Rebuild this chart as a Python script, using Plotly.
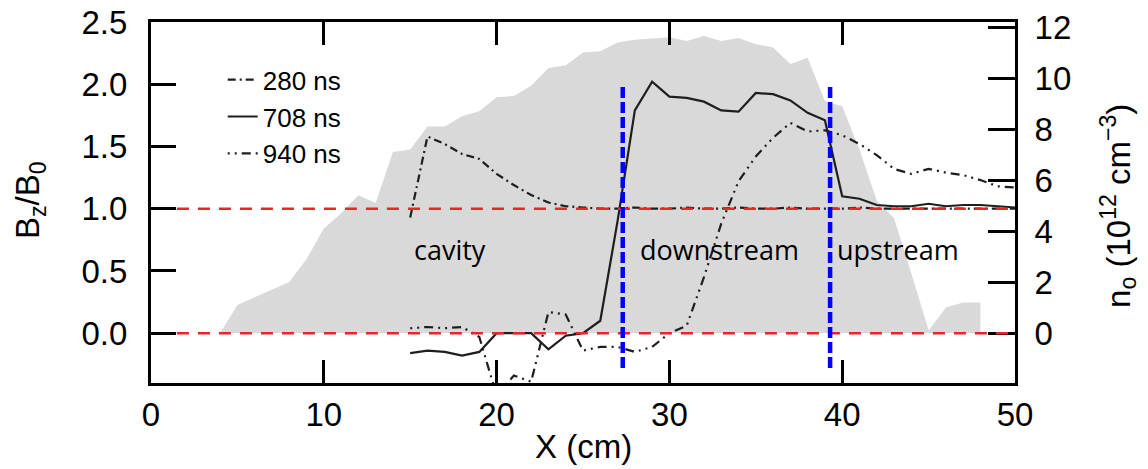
import plotly.graph_objects as go

# ---- data ----
x_b = list(range(15, 51))
b_280 = [0.93, 1.58, 1.52, 1.44, 1.40, 1.28, 1.19, 1.11, 1.05, 1.02, 1.01, 1.00,
         1.00, 1.01, 1.00, 1.00, 1.01, 1.00, 1.00, 1.01, 1.00, 1.00, 1.01, 1.00,
         1.00, 1.00, 1.01, 1.00, 1.00, 1.00, 1.00, 1.00, 1.00, 1.00, 1.00, 1.00]
b_708 = [-0.16, -0.14, -0.15, -0.18, -0.15, 0.00, 0.00, 0.00, -0.13, -0.02, 0.00, 0.10,
         0.90, 1.79, 2.02, 1.90, 1.89, 1.86, 1.79, 1.78, 1.93, 1.92, 1.87, 1.77,
         1.71, 1.10, 1.08, 1.03, 1.02, 1.02, 1.04, 1.02, 1.03, 1.03, 1.02, 1.01]
b_940 = [0.04, 0.05, 0.04, 0.05, -0.03, -0.50, -0.34, -0.39, 0.17, 0.15, -0.14, -0.11,
         -0.11, -0.15, -0.11, 0.00, 0.06, 0.45, 0.88, 1.22, 1.42, 1.57, 1.69, 1.62,
         1.63, 1.59, 1.52, 1.43, 1.32, 1.28, 1.32, 1.29, 1.27, 1.23, 1.18, 1.17]

x_n = [4, 5, 6, 7, 8, 9, 10, 11, 12, 13, 14, 15, 16, 17, 18, 19, 20, 21, 22, 23,
       24, 25, 26, 27, 28, 29, 30, 31, 32, 33, 34, 35, 36, 37, 38, 39, 40, 41, 42,
       43, 44, 45, 46, 47, 48]
n_o = [0.0, 1.1, 1.4, 1.7, 2.0, 2.9, 4.1, 4.7, 5.4, 5.1, 7.1, 7.2, 8.1, 8.1, 8.5,
       8.7, 9.25, 9.3, 9.7, 10.4, 10.5, 11.0, 11.05, 11.4, 11.5, 11.55, 11.6, 11.45,
       11.65, 11.45, 11.57, 11.33, 11.2, 10.55, 10.8, 9.1, 8.9, 7.2, 5.2, 4.5, 2.35,
       0.1, 1.0, 1.2, 1.2]

region_labels = ["cavity", "downstream", "upstream"]
region_x = [17.3, 32.9, 43.2]
region_y = [0.67, 0.67, 0.67]
boundaries = [27.3, 39.3]
ref_levels = [1.0, 0.0]

x_ticks = [0, 10, 20, 30, 40, 50]
b_ticks = [0.0, 0.5, 1.0, 1.5, 2.0, 2.5]
n_ticks = [0, 2, 4, 6, 8, 10, 12]

LINE = "#1e1e1e"
AXFONT = dict(family="Liberation Sans, Arial, sans-serif", size=33, color="black")

fig = go.Figure()

fig.add_trace(go.Scatter(x=x_n, y=n_o, mode="lines", fill="tozeroy",
                         fillcolor="#d9d9d9", line=dict(width=0, color="#d9d9d9"),
                         showlegend=False, yaxis="y", hoverinfo="skip"))

fig.add_trace(go.Scatter(x=x_b, y=b_280, mode="lines", name="280 ns", yaxis="y2",
                         line=dict(color=LINE, width=2.2, dash="8px,4px,2px,4px")))
fig.add_trace(go.Scatter(x=x_b, y=b_708, mode="lines", name="708 ns", yaxis="y2",
                         line=dict(color=LINE, width=2.2)))
fig.add_trace(go.Scatter(x=x_b, y=b_940, mode="lines", name="940 ns", yaxis="y2",
                         line=dict(color=LINE, width=2.2,
                                   dash="2px,5px,2px,5px,9px,5px")))

shapes = []
for lv in ref_levels:
    shapes.append(dict(type="line", xref="x", yref="y2", x0=1.5, x1=50, y0=lv, y1=lv,
                       line=dict(color="#e8262a", width=2.5, dash="12px,9px"),
                       layer="above"))
for bx in boundaries:
    shapes.append(dict(type="line", xref="x", yref="y2", x0=bx, x1=bx, y0=-0.28, y1=1.99,
                       line=dict(color="#0000ff", width=4.5, dash="11px,4px"),
                       layer="above"))

annotations = []
for t, xx, yy in zip(region_labels, region_x, region_y):
    annotations.append(dict(text=t, x=xx, y=yy, xref="x", yref="y2", showarrow=False,
                            xanchor="center", yanchor="middle",
                            font=dict(family="Open Sans, sans-serif", size=27, color="black")))
annotations.append(dict(text="B<sub>z</sub>/B<sub>0</sub>", xref="paper", yref="paper",
                        x=-0.14, y=0.507, textangle=-90, showarrow=False,
                        xanchor="center", yanchor="middle", font=AXFONT))
annotations.append(dict(text="n<sub>o</sub> (10<sup>12</sup> cm<sup>−3</sup>)",
                        xref="paper", yref="paper", x=1.119, y=0.49, textangle=-90,
                        xanchor="center", yanchor="middle",
                        showarrow=False, font=AXFONT))
annotations.append(dict(text="X (cm)", xref="paper", yref="paper", x=0.5, y=-0.177,
                        xanchor="center", yanchor="middle",
                        showarrow=False, font=AXFONT))

axis_common = dict(showgrid=False, zeroline=False, showline=True, linecolor="black",
                   linewidth=3, ticks="inside", tickwidth=3, tickcolor="black",
                   tickfont=AXFONT, automargin=False)

fig.update_layout(
    width=1148, height=469,
    margin=dict(l=151, r=133, t=22, b=86, autoexpand=False),
    paper_bgcolor="white", plot_bgcolor="white",
    shapes=shapes, annotations=annotations,
    xaxis=dict(range=[0, 50], tickvals=x_ticks, ticklen=23, mirror="ticks",
               ticklabelstandoff=0, **axis_common),
    yaxis=dict(range=[-1.96, 12.2], tickvals=n_ticks, side="right", ticklen=27,
               ticklabelstandoff=10, **axis_common),
    yaxis2=dict(range=[-0.4, 2.5], tickvals=b_ticks, tickformat=".1f", side="left",
                overlaying="y", ticklen=25, ticklabelstandoff=14, **axis_common),
    legend=dict(x=0.083, y=0.905, xanchor="left", yanchor="top",
                bgcolor="rgba(0,0,0,0)",
                font=dict(family="Liberation Sans, Arial, sans-serif", size=26, color="black")),
    showlegend=True,
)

fig.write_html("out.html", config={"displayModeBar": False},
               post_script="document.body.style.margin='0px';document.body.style.overflow='hidden';")
